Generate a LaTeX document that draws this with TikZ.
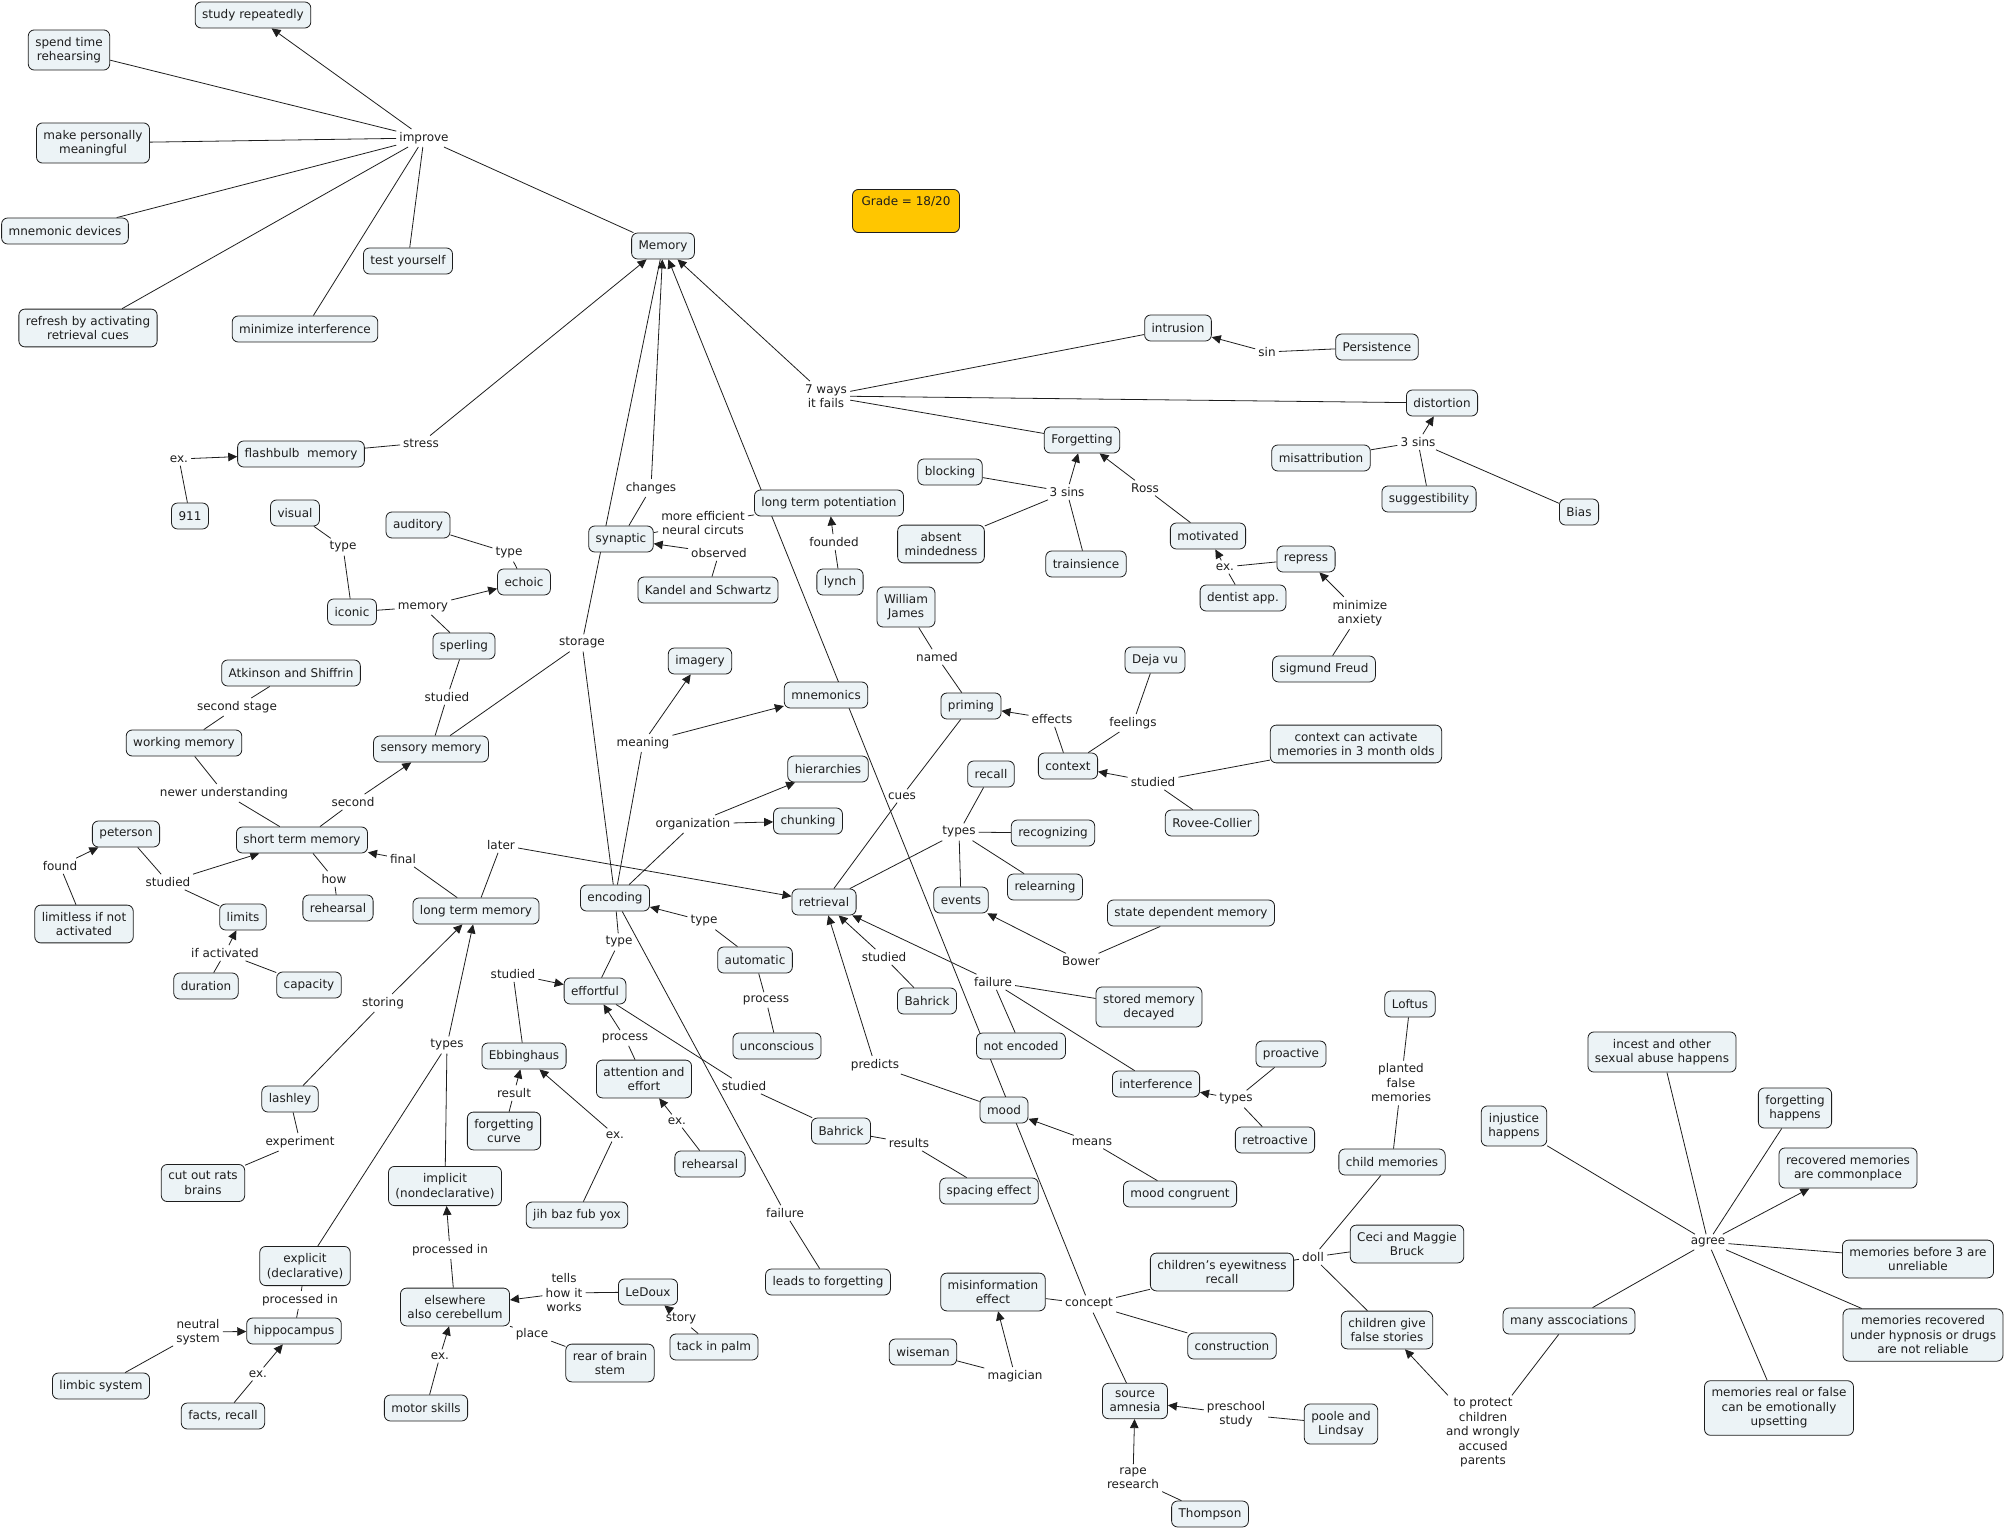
\documentclass[tikz,border=0pt]{standalone}
\usepackage{fontspec}
\setmainfont{DejaVu Sans}
\usetikzlibrary{arrows.meta,backgrounds}
\definecolor{pale}{RGB}{236,243,246}
\definecolor{gold}{RGB}{255,198,0}
\definecolor{ink}{RGB}{30,30,30}
\tikzset{
  >={Triangle[length=9pt,width=8.5pt]},
  cpt/.style={draw=ink,fill=#1,rounded corners=6pt,line width=0.8pt,
    minimum height=26pt,inner xsep=7pt,inner ysep=7pt,align=center,text=ink},
  cpt/.default=pale,
  lnk/.style={inner sep=3pt,align=center,text=ink},
  ln/.style={draw=ink,line width=0.8pt},
  flow/.style={ln,->},
}

\begin{document}
\begin{tikzpicture}[x=1pt,y=-1pt,font=\fontsize{12}{14.5}\selectfont]
  \useasboundingbox (0,0) rectangle (2006,1530);
  % concepts
  \node[cpt] (mem) at (663,246) {Memory};
  \node[cpt=gold,minimum width=107pt,text depth=20pt] (grade) at (906,211) {Grade = 18/20};
  \node[cpt] (study) at (253,15) {study repeatedly};
  \node[cpt] (spend) at (69,50) {spend time\\rehearsing};
  \node[cpt] (make) at (93,143) {make personally\\meaningful};
  \node[cpt] (mnemdev) at (65,231) {mnemonic devices};
  \node[cpt] (refresh) at (88,328) {refresh by activating\\retrieval cues};
  \node[cpt] (minimize) at (305,329) {minimize interference};
  \node[cpt] (test) at (408,261) {test yourself};
  \node[cpt] (flash) at (301,454) {flashbulb\ \ memory};
  \node[cpt] (n911) at (190,516) {911};
  \node[cpt] (visual) at (295,513) {visual};
  \node[cpt] (iconic) at (352,612) {iconic};
  \node[cpt] (auditory) at (418,525) {auditory};
  \node[cpt] (echoic) at (524,582) {echoic};
  \node[cpt] (sperling) at (464,646) {sperling};
  \node[cpt] (sensory) at (431,749) {sensory memory};
  \node[cpt] (atkinson) at (291,673) {Atkinson and Shiffrin};
  \node[cpt] (working) at (184,743) {working memory};
  \node[cpt] (stm) at (302,840) {short term memory};
  \node[cpt] (peterson) at (126,834) {peterson};
  \node[cpt] (limitless) at (84,924) {limitless if not\\activated};
  \node[cpt] (limits) at (243,917) {limits};
  \node[cpt] (duration) at (206,986) {duration};
  \node[cpt] (capacity) at (309,985) {capacity};
  \node[cpt] (rehA) at (338,908) {rehearsal};
  \node[cpt] (ltm) at (476,911) {long term memory};
  \node[cpt] (lashley) at (290,1099) {lashley};
  \node[cpt] (cutout) at (203,1183) {cut out rats\\brains};
  \node[cpt] (implicit) at (445,1186) {implicit\\(nondeclarative)};
  \node[cpt] (explicit) at (305,1266) {explicit\\(declarative)};
  \node[cpt] (hippo) at (294,1331) {hippocampus};
  \node[cpt] (limbic) at (101,1386) {limbic system};
  \node[cpt] (facts) at (223,1416) {facts, recall};
  \node[cpt] (elsewhere) at (455,1307) {elsewhere\\also cerebellum};
  \node[cpt] (motor) at (426,1408) {motor skills};
  \node[cpt] (ebbing) at (524,1056) {Ebbinghaus};
  \node[cpt] (fcurve) at (504,1131) {forgetting\\curve};
  \node[cpt] (jih) at (577,1215) {jih baz fub yox};
  \node[cpt] (attention) at (644,1079) {attention and\\effort};
  \node[cpt] (rehB) at (710,1164) {rehearsal};
  \node[cpt] (bahrickB) at (841,1131) {Bahrick};
  \node[cpt] (spacing) at (989,1191) {spacing effect};
  \node[cpt] (leads) at (828,1282) {leads to forgetting};
  \node[cpt] (ledoux) at (648,1292) {LeDoux};
  \node[cpt] (tack) at (714,1347) {tack in palm};
  \node[cpt] (rear) at (610,1363) {rear of brain\\stem};
  \node[cpt] (misinfo) at (993,1292) {misinformation\\effect};
  \node[cpt] (wiseman) at (923,1352) {wiseman};
  \node[cpt] (synaptic) at (621,539) {synaptic};
  \node[cpt] (kandel) at (708,590) {Kandel and Schwartz};
  \node[cpt] (ltp) at (829,503) {long term potentiation};
  \node[cpt] (lynch) at (840,582) {lynch};
  \node[cpt] (absent) at (941,544) {absent\\mindedness};
  \node[cpt] (william) at (906,607) {William\\James};
  \node[cpt] (priming) at (971,706) {priming};
  \node[cpt] (imagery) at (700,661) {imagery};
  \node[cpt] (mnemonics) at (826,695) {mnemonics};
  \node[cpt] (hierarchies) at (828,769) {hierarchies};
  \node[cpt] (chunking) at (808,821) {chunking};
  \node[cpt] (encoding) at (615,898) {encoding};
  \node[cpt] (automatic) at (755,960) {automatic};
  \node[cpt] (unconscious) at (777,1046) {unconscious};
  \node[cpt] (effortful) at (595,991) {effortful};
  \node[cpt] (retrieval) at (824,902) {retrieval};
  \node[cpt] (recall) at (991,774) {recall};
  \node[cpt] (recognizing) at (1053,833) {recognizing};
  \node[cpt] (relearning) at (1045,887) {relearning};
  \node[cpt] (events) at (961,900) {events};
  \node[cpt] (statedep) at (1191,913) {state dependent memory};
  \node[cpt] (bahrickA) at (927,1001) {Bahrick};
  \node[cpt] (trainsience) at (1086,564) {trainsience};
  \node[cpt] (motivated) at (1208,536) {motivated};
  \node[cpt] (repress) at (1306,559) {repress};
  \node[cpt] (dentist) at (1243,598) {dentist app.};
  \node[cpt] (freud) at (1324,669) {sigmund Freud};
  \node[cpt] (dejavu) at (1155,660) {Deja vu};
  \node[cpt] (context) at (1068,766) {context};
  \node[cpt] (ctxact) at (1356,744) {context can activate\\memories in 3 month olds};
  \node[cpt] (rovee) at (1212,823) {Rovee-Collier};
  \node[cpt] (stored) at (1149,1007) {stored memory\\decayed};
  \node[cpt] (loftus) at (1410,1004) {Loftus};
  \node[cpt] (intrusion) at (1178,328) {intrusion};
  \node[cpt] (persistence) at (1377,347) {Persistence};
  \node[cpt] (distortion) at (1442,403) {distortion};
  \node[cpt] (misattr) at (1321,458) {misattribution};
  \node[cpt] (suggest) at (1429,499) {suggestibility};
  \node[cpt] (bias) at (1579,512) {Bias};
  \node[cpt] (forgetting) at (1082,440) {Forgetting};
  \node[cpt] (blocking) at (950,472) {blocking};
  \node[cpt] (notenc) at (1021,1046) {not encoded};
  \node[cpt] (interference) at (1156,1084) {interference};
  \node[cpt] (proactive) at (1291,1054) {proactive};
  \node[cpt] (retroactive) at (1275,1140) {retroactive};
  \node[cpt] (mood) at (1004,1110) {mood};
  \node[cpt] (moodcong) at (1180,1194) {mood congruent};
  \node[cpt] (childmem) at (1392,1162) {child memories};
  \node[cpt] (ceci) at (1407,1244) {Ceci and Maggie\\Bruck};
  \node[cpt] (eyewit) at (1222,1272) {children's eyewitness\\recall};
  \node[cpt] (construction) at (1232,1346) {construction};
  \node[cpt] (falsestories) at (1387,1330) {children give\\false stories};
  \node[cpt] (source) at (1135,1401) {source\\amnesia};
  \node[cpt] (poole) at (1341,1424) {poole and\\Lindsay};
  \node[cpt] (thompson) at (1210,1514) {Thompson};
  \node[cpt] (injustice) at (1514,1126) {injustice\\happens};
  \node[cpt] (incest) at (1662,1052) {incest and other\\sexual abuse happens};
  \node[cpt] (fhappens) at (1795,1108) {forgetting\\happens};
  \node[cpt] (recovered) at (1848,1168) {recovered memories\\are commonplace};
  \node[cpt] (before3) at (1918,1259) {memories before 3 are\\unreliable};
  \node[cpt] (hypnosis) at (1923,1335) {memories recovered\\under hypnosis or drugs\\are not reliable};
  \node[cpt] (realfalse) at (1779,1408) {memories real or false\\can be emotionally\\upsetting};
  \node[cpt] (manyassoc) at (1569,1321) {many asscociations};
  % linking phrases
  \node[lnk] (improve) at (424,138) {improve};
  \node[lnk] (stress) at (421,443) {stress};
  \node[lnk] (ex1) at (179,459) {ex.};
  \node[lnk] (storage) at (582,643) {storage};
  \node[lnk] (changes) at (651,488) {changes};
  \node[lnk] (concept) at (1089,1304) {concept};
  \node[lnk] (ways) at (826,396) {7 ways\\it fails};
  \node[lnk] (sin) at (1267,352) {sin};
  \node[lnk] (sinsD) at (1418,442) {3 sins};
  \node[lnk] (sinsF) at (1067,492) {3 sins};
  \node[lnk] (ross) at (1145,488) {Ross};
  \node[lnk] (exD) at (1225,567) {ex.};
  \node[lnk] (minanx) at (1360,613) {minimize\\anxiety};
  \node[lnk] (typeV) at (343,547) {type};
  \node[lnk] (typeA) at (509,553) {type};
  \node[lnk] (memL) at (423,607) {memory};
  \node[lnk] (studiedS) at (447,697) {studied};
  \node[lnk] (second) at (353,802) {second};
  \node[lnk] (secstage) at (237,707) {second stage};
  \node[lnk] (newer) at (224,793) {newer understanding};
  \node[lnk] (studiedP) at (168,882) {studied};
  \node[lnk] (found) at (60,866) {found};
  \node[lnk] (ifact) at (225,953) {if activated};
  \node[lnk] (how) at (334,879) {how};
  \node[lnk] (final) at (403,859) {final};
  \node[lnk] (later) at (501,845) {later};
  \node[lnk] (storing) at (383,1003) {storing};
  \node[lnk] (experiment) at (300,1142) {experiment};
  \node[lnk] (typesL) at (447,1045) {types};
  \node[lnk] (procE) at (300,1300) {processed in};
  \node[lnk] (neutral) at (198,1332) {neutral\\system};
  \node[lnk] (exF) at (258,1374) {ex.};
  \node[lnk] (procI) at (450,1250) {processed in};
  \node[lnk] (exM) at (440,1356) {ex.};
  \node[lnk] (tells) at (564,1293) {tells\\how it\\works};
  \node[lnk] (story) at (681,1319) {story};
  \node[lnk] (place) at (532,1334) {place};
  \node[lnk] (studiedE) at (513,974) {studied};
  \node[lnk] (result) at (514,1093) {result};
  \node[lnk] (exJ) at (615,1135) {ex.};
  \node[lnk] (processA) at (625,1038) {process};
  \node[lnk] (exR) at (677,1121) {ex.};
  \node[lnk] (typeE) at (619,942) {type};
  \node[lnk] (typeAu) at (704,921) {type};
  \node[lnk] (processU) at (766,1000) {process};
  \node[lnk] (studiedB) at (744,1086) {studied};
  \node[lnk] (results) at (909,1143) {results};
  \node[lnk] (failureE) at (785,1213) {failure};
  \node[lnk] (meaning) at (643,743) {meaning};
  \node[lnk] (organization) at (693,824) {organization};
  \node[lnk] (moreeff) at (703,523) {more efficient\\neural circuts};
  \node[lnk] (observed) at (719,553) {observed};
  \node[lnk] (founded) at (834,542) {founded};
  \node[lnk] (named) at (937,657) {named};
  \node[lnk] (effects) at (1052,719) {effects};
  \node[lnk] (feelings) at (1133,723) {feelings};
  \node[lnk] (studiedR) at (1153,782) {studied};
  \node[lnk] (cues) at (902,796) {cues};
  \node[lnk] (typesR) at (959,832) {types};
  \node[lnk] (bower) at (1081,961) {Bower};
  \node[lnk] (studiedA) at (884,957) {studied};
  \node[lnk] (failureR) at (993,982) {failure};
  \node[lnk] (predicts) at (875,1065) {predicts};
  \node[lnk] (means) at (1092,1142) {means};
  \node[lnk] (typesI) at (1236,1099) {types};
  \node[lnk] (planted) at (1401,1083) {planted\\false\\memories};
  \node[lnk] (doll) at (1313,1257) {doll};
  \node[lnk] (toprotect) at (1483,1433) {to protect\\children\\and wrongly\\accused\\parents};
  \node[lnk] (preschool) at (1236,1414) {preschool\\study};
  \node[lnk] (rape) at (1133,1478) {rape\\research};
  \node[lnk] (magician) at (1015,1376) {magician};
  \node[lnk] (agree) at (1708,1242) {agree};

  \begin{scope}[on background layer]
    % memory hub
    \foreach \t in {mem,spend,make,mnemdev,refresh,minimize,test} \draw[ln] (improve) -- (\t);
    \draw[flow] (improve) -- (study);
    \draw[ln] (flash) -- (stress); \draw[flow] (stress) -- (mem);
    \draw[ln] (n911) -- (ex1); \draw[flow] (ex1) -- (flash);
    \foreach \t in {mem,encoding,sensory} \draw[ln] (storage) -- (\t);
    \draw[ln] (synaptic) -- (changes); \draw[flow] (changes) -- (mem);
    \draw[flow] (concept) -- (mem);
    \foreach \t in {misinfo,eyewit,construction,source} \draw[ln] (concept) -- (\t);
    \draw[flow] (ways) -- (mem);
    \foreach \t in {intrusion,distortion,forgetting} \draw[ln] (ways) -- (\t);
    \draw[ln] (persistence) -- (sin); \draw[flow] (sin) -- (intrusion);
    \foreach \t in {misattr,suggest,bias} \draw[ln] (sinsD) -- (\t);
    \draw[flow] (sinsD) -- (distortion);
    \foreach \t in {blocking,absent,trainsience} \draw[ln] (sinsF) -- (\t);
    \draw[flow] (sinsF) -- (forgetting);
    \draw[ln] (motivated) -- (ross); \draw[flow] (ross) -- (forgetting);
    \draw[ln] (dentist) -- (exD); \draw[ln] (repress) -- (exD); \draw[flow] (exD) -- (motivated);
    \draw[ln] (freud) -- (minanx); \draw[flow] (minanx) -- (repress);
    % stages
    \draw[ln] (visual) -- (typeV) -- (iconic);
    \draw[ln] (auditory) -- (typeA) -- (echoic);
    \draw[ln] (iconic) -- (memL) -- (sperling); \draw[flow] (memL) -- (echoic);
    \draw[ln] (sperling) -- (studiedS) -- (sensory);
    \draw[ln] (stm) -- (second); \draw[flow] (second) -- (sensory);
    \draw[ln] (atkinson) -- (secstage) -- (working);
    \draw[ln] (working) -- (newer) -- (stm);
    \draw[ln] (peterson) -- (studiedP) -- (limits); \draw[flow] (studiedP) -- (stm);
    \draw[ln] (limitless) -- (found); \draw[flow] (found) -- (peterson);
    \draw[ln] (capacity) -- (ifact) -- (duration); \draw[flow] (ifact) -- (limits);
    \draw[ln] (stm) -- (how) -- (rehA);
    \draw[ln] (ltm) -- (final); \draw[flow] (final) -- (stm);
    \draw[ln] (ltm) -- (later); \draw[flow] (later) -- (retrieval);
    \draw[ln] (lashley) -- (storing); \draw[flow] (storing) -- (ltm);
    \draw[ln] (lashley) -- (experiment) -- (cutout);
    \draw[ln] (explicit) -- (typesL) -- (implicit); \draw[flow] (typesL) -- (ltm);
    \draw[ln] (explicit) -- (procE) -- (hippo);
    \draw[ln] (limbic) -- (neutral); \draw[flow] (neutral) -- (hippo);
    \draw[ln] (facts) -- (exF); \draw[flow] (exF) -- (hippo);
    \draw[ln] (elsewhere) -- (procI); \draw[flow] (procI) -- (implicit);
    \draw[ln] (motor) -- (exM); \draw[flow] (exM) -- (elsewhere);
    \draw[ln] (ledoux) -- (tells); \draw[flow] (tells) -- (elsewhere);
    \draw[ln] (tack) -- (story); \draw[flow] (story) -- (ledoux);
    \draw[ln] (elsewhere) -- (place) -- (rear);
    % encoding
    \draw[ln] (ebbing) -- (studiedE); \draw[flow] (studiedE) -- (effortful);
    \draw[ln] (fcurve) -- (result); \draw[flow] (result) -- (ebbing);
    \draw[ln] (jih) -- (exJ); \draw[flow] (exJ) -- (ebbing);
    \draw[ln] (attention) -- (processA); \draw[flow] (processA) -- (effortful);
    \draw[ln] (rehB) -- (exR); \draw[flow] (exR) -- (attention);
    \draw[ln] (encoding) -- (typeE) -- (effortful);
    \draw[ln] (automatic) -- (typeAu); \draw[flow] (typeAu) -- (encoding);
    \draw[ln] (automatic) -- (processU) -- (unconscious);
    \draw[ln] (effortful) -- (studiedB) -- (bahrickB);
    \draw[ln] (bahrickB) -- (results) -- (spacing);
    \draw[ln] (encoding) -- (failureE) -- (leads);
    \draw[ln] (encoding) -- (meaning); \draw[flow] (meaning) -- (imagery); \draw[flow] (meaning) -- (mnemonics);
    \draw[ln] (encoding) -- (organization); \draw[flow] (organization) -- (hierarchies); \draw[flow] (organization) -- (chunking);
    \draw[ln] (ltp) -- (moreeff) -- (synaptic);
    \draw[ln] (kandel) -- (observed); \draw[flow] (observed) -- (synaptic);
    \draw[ln] (lynch) -- (founded); \draw[flow] (founded) -- (ltp);
    % retrieval
    \draw[ln] (william) -- (named) -- (priming);
    \draw[ln] (context) -- (effects); \draw[flow] (effects) -- (priming);
    \draw[ln] (context) -- (feelings) -- (dejavu);
    \draw[ln] (rovee) -- (studiedR) -- (ctxact); \draw[flow] (studiedR) -- (context);
    \draw[ln] (retrieval) -- (cues) -- (priming);
    \foreach \t in {retrieval,recall,recognizing,relearning,events} \draw[ln] (typesR) -- (\t);
    \draw[ln] (statedep) -- (bower); \draw[flow] (bower) -- (events);
    \draw[ln] (bahrickA) -- (studiedA); \draw[flow] (studiedA) -- (retrieval);
    \foreach \t in {stored,notenc,interference} \draw[ln] (failureR) -- (\t);
    \draw[flow] (failureR) -- (retrieval);
    \draw[ln] (mood) -- (predicts); \draw[flow] (predicts) -- (retrieval);
    \draw[ln] (moodcong) -- (means); \draw[flow] (means) -- (mood);
    \draw[ln] (proactive) -- (typesI) -- (retroactive); \draw[flow] (typesI) -- (interference);
    % false memories
    \draw[ln] (loftus) -- (planted) -- (childmem);
    \foreach \t in {eyewit,childmem,ceci,falsestories} \draw[ln] (doll) -- (\t);
    \draw[ln] (manyassoc) -- (toprotect); \draw[flow] (toprotect) -- (falsestories);
    \draw[ln] (poole) -- (preschool); \draw[flow] (preschool) -- (source);
    \draw[ln] (thompson) -- (rape); \draw[flow] (rape) -- (source);
    \draw[ln] (wiseman) -- (magician); \draw[flow] (magician) -- (misinfo);
    \foreach \t in {injustice,incest,fhappens,before3,hypnosis,realfalse,manyassoc} \draw[ln] (agree) -- (\t);
    \draw[flow] (agree) -- (recovered);
  \end{scope}
\end{tikzpicture}
\end{document}
